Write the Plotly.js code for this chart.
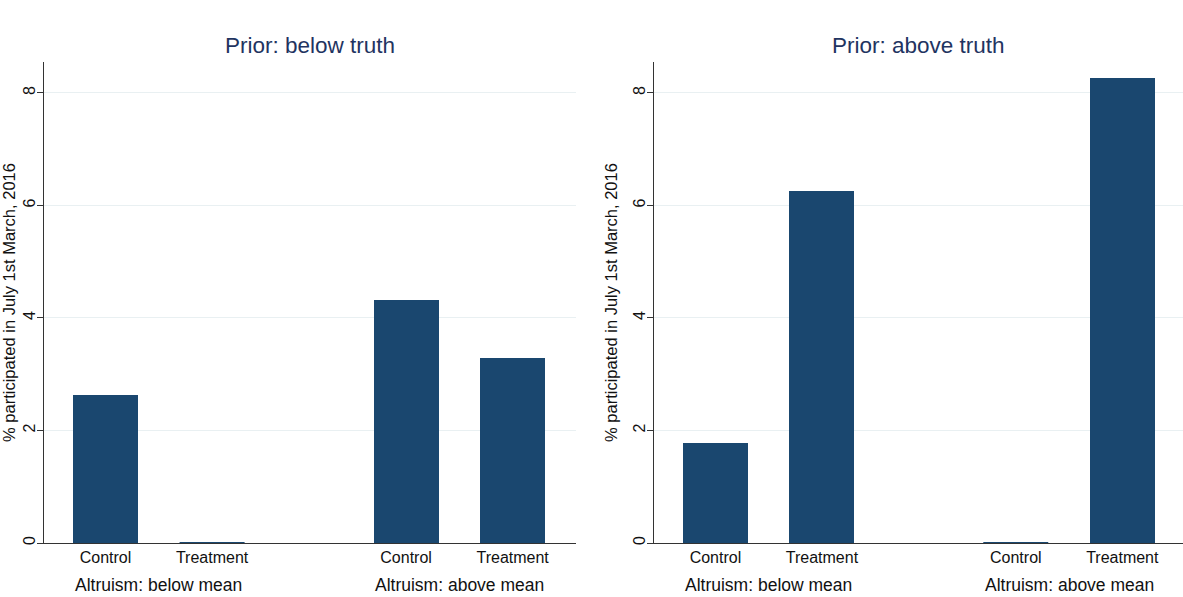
<!DOCTYPE html>
<html>
<head>
<meta charset="utf-8">
<script src="https://cdn.plot.ly/plotly-3.0.1.min.js"></script>
<style>html,body{margin:0;padding:0;background:#fff;}#chart{width:1183px;height:597px;}</style>
</head>
<body>
<div id="chart"></div>
<script>
// ---- data ----
const panelTitles = ["Prior: below truth", "Prior: above truth"];
const groupLabels = ["Altruism: below mean", "Altruism: above mean"];
const armLabels = ["Control", "Treatment"];
// values: [below mean Control, below mean Treatment, above mean Control, above mean Treatment]
const priorBelowValues = [2.63, 0, 4.32, 3.29];
const priorAboveValues = [1.78, 6.25, 0, 8.27];
const yTicks = [0, 2, 4, 6, 8];
const yTitle = "% participated in July 1st March, 2016";

// ---- layout constants ----
const GROUP_GAP = 0.82;
const BAR_W = 0.61;
const BAR_COLOR = "#1a476f";
const FONT = "Liberation Sans, Arial, Helvetica, sans-serif";

const positions = [];
const tickText = [];
groupLabels.forEach((g, gi) => armLabels.forEach((a, ai) => {
  positions.push(gi * (armLabels.length + GROUP_GAP) + ai);
  tickText.push(a);
}));

const panels = [priorBelowValues, priorAboveValues];
const traces = panels.map((vals, i) => ({
  type: "bar",
  x: positions,
  y: vals,
  width: BAR_W,
  marker: {color: BAR_COLOR, line: {width: 0}},
  xaxis: i === 0 ? "x" : "x2",
  yaxis: i === 0 ? "y" : "y2",
  hoverinfo: "y",
  showlegend: false
}));

const domains = [[0.0372, 0.4865], [0.5528, 1.0]];
const xRanges = [[-0.577, 4.41], [-0.577, 4.39]];

function xAxis(i) {
  return {
    domain: domains[i], range: xRanges[i], anchor: i === 0 ? "y" : "y2",
    tickmode: "array", tickvals: positions, ticktext: tickText,
    ticks: "", showline: true, linecolor: "#333", linewidth: 1,
    showgrid: false, zeroline: false,
    tickfont: {family: FONT, size: 16, color: "#111"}
  };
}
function yAxis(i) {
  return {
    domain: [0, 1], range: [0, 8.55], anchor: i === 0 ? "x" : "x2",
    tickmode: "array", tickvals: yTicks, ticktext: yTicks.map(String),
    ticks: "outside", ticklen: 6, tickcolor: "#333", tickwidth: 1,
    tickangle: -90, ticklabelstandoff: -4,
    showline: true, linecolor: "#333", linewidth: 1,
    showgrid: true, gridcolor: "#e9f0f2", gridwidth: 1, zeroline: false,
    tickfont: {family: FONT, size: 16, color: "#111"},
    automargin: false,
    title: {text: yTitle, font: {family: FONT, size: 16.5, color: "#111"}, standoff: 8}
  };
}

const annotations = [];
const shapes = [];
panels.forEach((vals, i) => {
  const xr = i === 0 ? "x" : "x2";
  const yr = i === 0 ? "y" : "y2";
  annotations.push({
    text: panelTitles[i], xref: "paper", yref: "paper",
    x: (domains[i][0] + domains[i][1]) / 2, y: 1, yshift: 2,
    xanchor: "center", yanchor: "bottom", showarrow: false,
    font: {family: FONT, size: 22.5, color: "#1f3461"}
  });
  groupLabels.forEach((g, gi) => {
    annotations.push({
      text: g, xref: xr, yref: "paper",
      x: gi * (armLabels.length + GROUP_GAP) + (armLabels.length - 1) / 2, y: 0, yshift: -30,
      xanchor: "center", yanchor: "top", showarrow: false,
      font: {family: FONT, size: 17.5, color: "#111"}
    });
  });
  vals.forEach((v, k) => {
    if (v === 0) {
      shapes.push({type: "line", xref: xr, yref: yr,
        x0: positions[k] - BAR_W / 2, x1: positions[k] + BAR_W / 2, y0: 0, y1: 0,
        line: {color: BAR_COLOR, width: 2}});
    }
  });
});

const layout = {
  width: 1183, height: 597,
  margin: {l: 0, r: 0, t: 62, b: 54},
  paper_bgcolor: "#fff", plot_bgcolor: "#fff",
  xaxis: xAxis(0), yaxis: yAxis(0), xaxis2: xAxis(1), yaxis2: yAxis(1),
  annotations: annotations, shapes: shapes,
  bargap: 0, showlegend: false
};

Plotly.newPlot("chart", traces, layout, {displayModeBar: false, staticPlot: true});
</script>
</body>
</html>
